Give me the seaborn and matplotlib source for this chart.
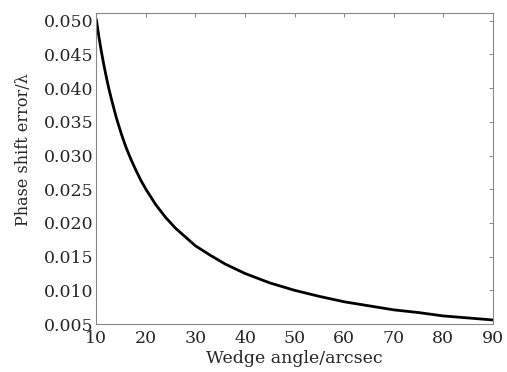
import pandas as pd
import matplotlib
matplotlib.use("Agg")
import matplotlib.pyplot as plt
import seaborn as sns

# values
wedge_angle = [10, 10.5, 11, 11.5, 12, 12.5, 13, 14, 15, 16, 17, 18, 19, 20,
               22, 24, 26, 28, 30, 33, 36, 40, 45, 50, 55, 60, 65, 70, 75, 80,
               85, 90]
phase_error = [0.0502, 0.0477, 0.0455, 0.0435, 0.0417, 0.0400, 0.0385, 0.0357,
               0.0333, 0.0312, 0.0294, 0.0278, 0.0263, 0.0250, 0.0227, 0.0208,
               0.0192, 0.0179, 0.0166, 0.0152, 0.0139, 0.0125, 0.0111, 0.0100,
               0.0091, 0.0083, 0.0077, 0.0071, 0.0067, 0.0062, 0.0059, 0.0056]
x_ticks = [10, 20, 30, 40, 50, 60, 70, 80, 90]
y_ticks = [0.005, 0.010, 0.015, 0.020, 0.025, 0.030, 0.035, 0.040, 0.045, 0.050]

df = pd.DataFrame({"angle": wedge_angle, "error": phase_error})

sns.set_style("white")
plt.rcParams['font.family'] = ['DejaVu Serif']
plt.rcParams['mathtext.fontset'] = 'dejavuserif'

fig = plt.figure(figsize=(5.07, 3.72), dpi=100)
ax = fig.add_axes([0.190, 0.129, 0.782, 0.837])

sns.lineplot(data=df, x="angle", y="error", color="black", linewidth=2.0, ax=ax)

ax.set_xlim(10, 90)
ax.set_ylim(0.005, 0.0512)
ax.set_xticks(x_ticks)
ax.set_yticks(y_ticks)
ax.set_yticklabels([f"{v:.3f}" for v in y_ticks])
ax.tick_params(direction="in", length=3, width=0.6, color="#777777",
               top=True, right=True, labelsize=12.5, pad=2)
ax.tick_params(axis="x", pad=4.5)
for s in ax.spines.values():
    s.set_color("#888888")
    s.set_linewidth(0.8)
    s.set_linestyle((0, (2, 1)))

ax.set_xlabel("Wedge angle/arcsec", fontsize=12.5, labelpad=2)
ax.set_ylabel("Phase shift error/λ", fontsize=11.5)
ax.yaxis.set_label_coords(-0.163, 0.56)

fig.savefig("out.png", dpi=100)
